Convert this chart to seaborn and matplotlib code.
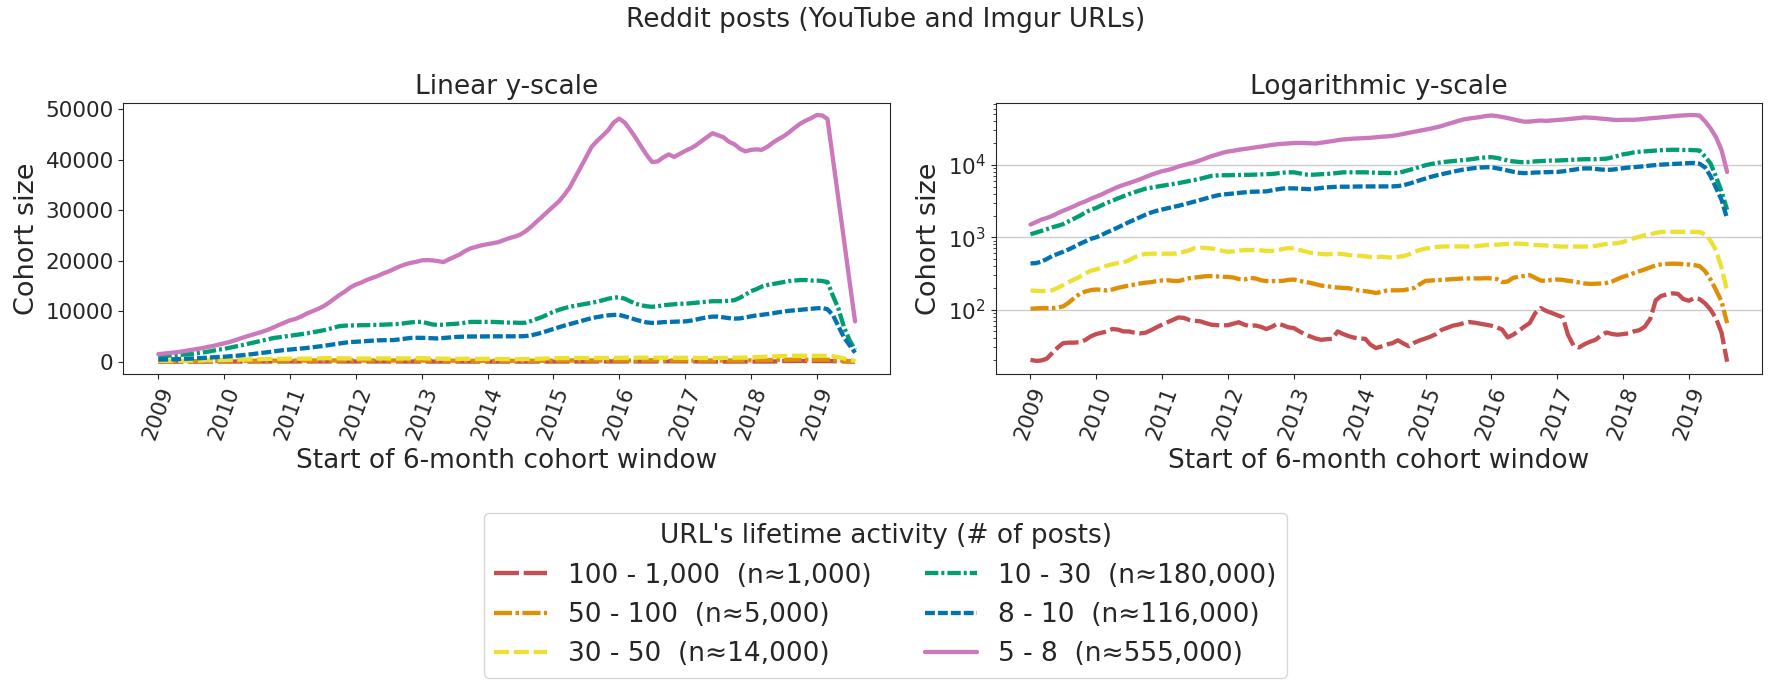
import pandas as pd
import matplotlib
matplotlib.use("Agg")
import matplotlib.pyplot as plt
import matplotlib.dates as mdates
import seaborn as sns

# =============================================================================
# Data: monthly start of 6-month cohort window, Jan 2009 .. Aug 2019
# =============================================================================

months = pd.date_range("2009-01-01", periods=128, freq="MS")
year_ticks = pd.date_range("2009-01-01", "2019-01-01", freq="YS")

groups = [
    "100 - 1,000  (n≈1,000)",
    "50 - 100  (n≈5,000)",
    "30 - 50  (n≈14,000)",
    "10 - 30  (n≈180,000)",
    "8 - 10  (n≈116,000)",
    "5 - 8  (n≈555,000)",
]

size_100_1000 = [
    20.2, 19.6, 19.8, 21, 25, 30, 34.4, 35, 35, 35.5, 38, 42.7,
    46, 48, 50, 54, 53, 50, 50, 48, 47, 48, 52, 57,
    62, 67, 72, 78, 77, 72, 70, 69, 65, 62, 61, 60.5,
    61, 64, 67, 62, 59, 60.5, 58, 54, 58, 64, 61, 57,
    55.6, 50, 45.9, 42.7, 40, 38.3, 39, 39.5, 50, 46, 43, 41,
    40, 39.5, 33, 29.4, 31, 33, 34.4, 37.7, 34, 31.2, 35, 37.7,
    40, 42.7, 46, 52.7, 56, 60, 62, 65, 67.4, 66, 64, 61.9,
    60, 57, 53, 41.3, 45, 51, 58, 65.3, 90, 105, 96, 89.9,
    84, 78.3, 45, 32, 30, 33.3, 36, 38.3, 44, 48.4, 46, 45,
    46, 47, 50, 52, 58, 75, 135, 155, 162, 168, 165, 140,
    133, 145, 140, 122, 100, 75, 48, 19.1,
]

size_50_100 = [
    103, 104, 105, 105, 105, 107, 111, 125, 145, 165, 178, 186,
    190, 188, 184, 190, 200, 208, 215, 222, 230, 236, 240, 248,
    253, 255, 250, 248, 260, 272, 278, 285, 290, 290, 288, 285,
    283, 278, 265, 261, 275, 270, 255, 248, 248, 248, 250, 258,
    261, 250, 242, 235, 225, 215, 211, 206, 202, 200, 198, 190,
    183, 180, 176, 170, 176, 184, 185, 185, 186, 192, 200, 225,
    250, 253, 255, 258, 261, 264, 267, 270, 270, 270, 270, 272,
    270, 265, 240, 245, 275, 285, 292, 300, 275, 252, 250, 258,
    261, 258, 250, 245, 238, 230, 227, 228, 230, 234, 245, 265,
    285, 300, 320, 340, 360, 385, 410, 422, 428, 432, 430, 425,
    420, 412, 400, 340, 260, 185, 130, 65,
]

size_30_50 = [
    184, 182, 180, 182, 185, 200, 218, 240, 262, 285, 315, 345,
    360, 385, 405, 425, 440, 450, 480, 530, 565, 590, 593, 593,
    593, 593, 593, 600, 630, 660, 710, 720, 712, 700, 680, 650,
    630, 640, 655, 665, 667, 665, 660, 650, 648, 660, 690, 708,
    705, 670, 640, 612, 600, 590, 580, 590, 593, 585, 570, 558,
    556, 545, 535, 530, 540, 530, 522, 535, 551, 580, 630, 670,
    697, 715, 735, 745, 750, 750, 748, 746, 745, 750, 765, 778,
    784, 790, 800, 810, 815, 817, 810, 795, 780, 775, 770, 760,
    750, 745, 745, 745, 745, 745, 745, 760, 785, 810, 820, 830,
    860, 920, 968, 1020, 1070, 1100, 1150, 1187, 1190, 1190, 1190, 1190,
    1190, 1190, 1180, 1100, 900, 650, 380, 180,
]

size_10_30 = [
    1100, 1160, 1220, 1290, 1370, 1440, 1520, 1660, 1810, 1980, 2200, 2400,
    2550, 2780, 3000, 3200, 3450, 3700, 3950, 4200, 4450, 4700, 4850, 5000,
    5150, 5300, 5450, 5600, 5800, 6000, 6200, 6450, 6750, 7050, 7150, 7200,
    7200, 7250, 7250, 7300, 7300, 7350, 7400, 7450, 7500, 7650, 7800, 7900,
    7900, 7650, 7400, 7300, 7350, 7450, 7500, 7600, 7750, 7900, 7900, 7900,
    7900, 7900, 7850, 7800, 7750, 7750, 7700, 7750, 8100, 8500, 8900, 9400,
    9900, 10300, 10600, 10900, 11100, 11300, 11500, 11700, 11900, 12200, 12500, 12700,
    12800, 12500, 12000, 11500, 11200, 11000, 10900, 11000, 11200, 11300, 11400, 11500,
    11500, 11600, 11700, 11800, 11900, 12000, 12000, 12000, 12100, 12200, 12700, 13300,
    14000, 14400, 14900, 15200, 15400, 15600, 15800, 16000, 16100, 16200, 16200, 16100,
    16100, 16000, 15800, 13000, 10500, 6800, 4300, 2400,
]

size_8_10 = [
    435, 440, 460, 500, 550, 590, 630, 680, 740, 810, 880, 950,
    1000, 1080, 1170, 1260, 1370, 1490, 1620, 1750, 1900, 2050, 2200, 2320,
    2420, 2520, 2620, 2720, 2850, 2980, 3120, 3280, 3450, 3620, 3780, 3900,
    3960, 4030, 4100, 4180, 4250, 4270, 4290, 4310, 4450, 4600, 4720, 4750,
    4740, 4700, 4650, 4620, 4700, 4800, 4900, 4950, 5000, 5000, 5000, 5020,
    5040, 5040, 5040, 5040, 5050, 5050, 5050, 5100, 5250, 5500, 5800, 6150,
    6500, 6850, 7150, 7450, 7750, 8050, 8350, 8650, 8850, 9050, 9200, 9280,
    9300, 9000, 8700, 8350, 8050, 7800, 7700, 7750, 7850, 7900, 7950, 7980,
    8000, 8150, 8350, 8600, 8800, 8950, 8950, 8800, 8650, 8550, 8600, 8800,
    9000, 9200, 9300, 9450, 9600, 9800, 9950, 10100, 10200, 10300, 10400, 10500,
    10600, 10650, 10400, 9200, 7000, 4800, 3300, 1800,
]

size_5_8 = [
    1500, 1620, 1750, 1850, 1970, 2150, 2330, 2500, 2700, 2930, 3130, 3400,
    3650, 3920, 4250, 4600, 4970, 5300, 5600, 5950, 6350, 6800, 7300, 7750,
    8200, 8500, 8900, 9500, 9950, 10400, 10900, 11600, 12400, 13200, 13900, 14700,
    15300, 15700, 16200, 16600, 17000, 17500, 17900, 18400, 18900, 19300, 19600, 19800,
    20100, 20150, 20100, 19950, 19750, 20300, 20800, 21300, 22000, 22500, 22800, 23100,
    23300, 23500, 23700, 24100, 24500, 24800, 25200, 25900, 26800, 27800, 28800, 29800,
    30800, 31800, 33000, 34500, 36500, 38500, 40500, 42600, 43800, 44800, 45900, 47400,
    48200, 47400, 46000, 44400, 42700, 41000, 39600, 39700, 40500, 41100, 40600, 41200,
    41800, 42300, 42900, 43700, 44500, 45300, 44900, 44500, 43600, 43100, 42200, 41700,
    42000, 42100, 42000, 42600, 43400, 44100, 44700, 45500, 46400, 47200, 47800, 48300,
    48900, 48800, 48100, 40000, 32000, 24000, 16000, 8000,
]

series = [size_100_1000, size_50_100, size_30_50, size_10_30, size_8_10, size_5_8]

colors = ["#c44e52", "#de8f05", "#ece133", "#029e73", "#0173b2", "#cc78bc"]
line_dashes = [(5.8, 1.1), (4.2, 0.8, 0.8, 0.8), (3.5, 1.1),
               (3.1, 0.7, 0.7, 0.7), (2.3, 0.7), ""]

df = pd.concat(
    [pd.DataFrame({"window": months, "size": vals, "activity": g})
     for g, vals in zip(groups, series)],
    ignore_index=True,
)

# =============================================================================
# Plot
# =============================================================================

sns.set_style("ticks")
plt.rcParams["font.family"] = ["DejaVu Sans"]

fig = plt.figure(figsize=(17.71, 6.88), dpi=100)
ax_lin = fig.add_axes([0.0697, 0.4564, 0.4328, 0.3943])
ax_log = fig.add_axes([0.5622, 0.4564, 0.4327, 0.3943])

for ax, scale, title in [(ax_lin, "linear", "Linear y-scale"),
                         (ax_log, "log", "Logarithmic y-scale")]:
    sns.lineplot(
        data=df, x="window", y="size",
        hue="activity", style="activity",
        hue_order=groups, style_order=groups,
        palette=dict(zip(groups, colors)),
        dashes=dict(zip(groups, line_dashes)),
        linewidth=3.1, ax=ax, legend=(ax is ax_lin),
    )
    ax.set_yscale(scale)
    ax.set_title(title, fontsize=19)
    ax.set_xlabel("Start of 6-month cohort window", fontsize=19)
    ax.set_ylabel("Cohort size", fontsize=19.5)
    ax.set_xticks(year_ticks)
    ax.xaxis.set_major_formatter(mdates.DateFormatter("%Y"))
    ax.tick_params(axis="both", labelsize=15.5)
    ax.tick_params(axis="x", labelrotation=70)

ax_log.yaxis.grid(True, which="major", color=".8", linewidth=1)

leg = ax_lin.get_legend()
handles = leg.legend_handles
labels = [t.get_text() for t in leg.get_texts()]
leg.remove()

fig.legend(handles, labels, ncol=2, loc="lower center",
           bbox_to_anchor=(0.5, -0.004), fontsize=19,
           title="URL's lifetime activity (# of posts)", title_fontsize=19)

fig.suptitle("Reddit posts (YouTube and Imgur URLs)", fontsize=19,
             y=0.971, va="center")

fig.savefig("out.png", dpi=100)
